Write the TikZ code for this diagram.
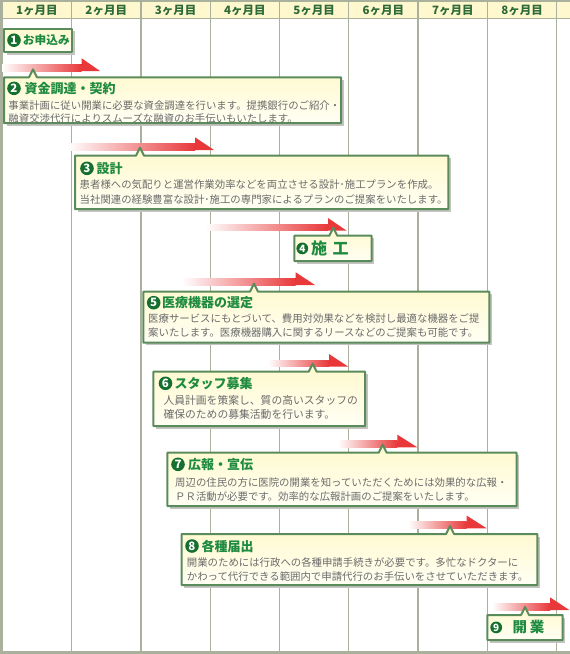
\documentclass[tikz,border=0pt]{standalone}
\usepackage{fontspec}
\setmainfont{Noto Sans CJK JP}
\definecolor{gridc}{HTML}{A9B09C}
\definecolor{headfill}{HTML}{FFF8CF}
\definecolor{headtxt}{HTML}{2D6A37}
\definecolor{boxline}{HTML}{5A8B5B}
\definecolor{boxtop}{HTML}{FFF9CC}
\definecolor{boxbot}{HTML}{FFFFF4}
\definecolor{titlec}{HTML}{1F8B40}
\definecolor{circc}{HTML}{157030}
\definecolor{bodyc}{HTML}{6B6B6B}
\definecolor{arrowred}{HTML}{E8383A}
\definecolor{shadowc}{HTML}{C4C4C0}
\tikzset{
  gridline/.style={draw=gridc, line width=1.3pt},
  headtext/.style={font=\fontsize{11.5}{11.5}\selectfont\bfseries, text=headtxt, inner sep=0pt},
  boxpath/.style={draw=boxline, line width=2pt, line join=round, top color=boxtop, bottom color=boxbot},
  boxshadow/.style={fill=shadowc},
  titletext/.style={font=\fontsize{13}{13}\selectfont\bfseries, text=titlec, anchor=west, inner sep=0pt},
  bodytext/.style={font=\fontsize{10.4}{10.4}\selectfont, text=bodyc, anchor=west, inner sep=0pt},
  numcirc/.style={circle, fill=circc, text=white, inner sep=0pt, minimum size=13.6pt, font=\fontsize{11.5}{11.5}\selectfont\bfseries},
}
\newcommand\calloutbox[5]{%
  \fill[boxshadow] ({#1+2.5},{#2+2.5}) rectangle ({#3+2.5},{#4+2.5});
  \path[boxpath] (#1,#2) -- ({#5-4},#2) -- (#5,{#2-8}) -- ({#5+4},#2) -- (#3,#2) -- (#3,#4) -- (#1,#4) -- cycle;
}
\newcommand\plainbox[4]{%
  \fill[boxshadow] ({#1+2.5},{#2+2.5}) rectangle ({#3+2.5},{#4+2.5});
  \path[boxpath] (#1,#2) rectangle (#3,#4);
}
\newcommand\ganttarrow[4]{%
  \fill[left color=white, right color=arrowred] (#1,{#4-6.7}) rectangle (#2,#4);
  \fill[arrowred] (#2,{#4-12.7}) -- (#3,#4) -- (#2,#4) -- cycle;
}
\begin{document}
\begin{tikzpicture}[x=1pt,y=-1pt]
\useasboundingbox (0,0) rectangle (570,654);
\fill[white] (0,0) rectangle (570,654);
% header
\fill[headfill] (0,1.5) rectangle (570,18);
\foreach \k in {1,...,8} \draw[gridline] ({2.3+69.3*\k},0) -- ({2.3+69.3*\k},652);
\draw[gridc, line width=1.7pt] (0,0.85) -- (570,0.85);
\draw[gridline] (0,18.3) -- (570,18.3);
\draw[gridc, line width=2.6pt] (1.3,0) -- (1.3,654);
\draw[gridc, line width=2.8pt] (0,652.6) -- (570,652.6);
\foreach \k in {1,...,8} \node[headtext] (h\k) at ({2.3+69.3*(\k-0.5)},10.6) {\k ヶ月目};

% arrows
\ganttarrow{2}{81.7}{100}{71}
\ganttarrow{68}{195}{214}{150}
\ganttarrow{205}{328}{346.7}{230.7}
\ganttarrow{182}{295.7}{315}{285}
\ganttarrow{268}{329}{348.3}{366.7}
\ganttarrow{338}{397.3}{417.3}{447.3}
\ganttarrow{408}{466.7}{486.7}{528.3}
\ganttarrow{492}{550}{569.3}{610}

% box 1
\plainbox{4}{28.5}{72}{52}
\node[numcirc] (c1) at (14,40.2) {1};
\node[titletext, font=\fontsize{11.7}{11.7}\selectfont\bfseries] (t1) at (22.8,40.2) {お申込み};

% box 2
\calloutbox{4}{77.3}{341}{123}{33}
\node[numcirc] (c2) at (14,88.3) {2};
\node[titletext] (t2) at (24.5,88.3) {資金調達・契約};
\node[bodytext] (b2a) at (8.3,105.3) {事業計画に従い開業に必要な資金調達を行います。提携銀行のご紹介・};
\node[bodytext] (b2b) at (8.3,118.6) {融資交渉代行によりスムーズな融資のお手伝いもいたします。};

% box 3
\calloutbox{75}{155.7}{448.3}{209}{140}
\node[numcirc] (c3) at (87,168.3) {3};
\node[titletext] (t3) at (96.5,168.3) {設計};
\node[bodytext] (b3a) at (79.5,184.2) {患者様への気配りと運営作業効率などを両立させる設計･施工プランを作成。};
\node[bodytext] (b3b) at (79.5,199.3) {当社関連の経験豊富な設計･施工の専門家によるプランのご提案をいたします。};

% box 4
\calloutbox{294.3}{235.7}{371.7}{261}{333.3}
\node[numcirc, minimum size=11.8pt, font=\fontsize{10}{10}\selectfont\bfseries] (c4) at (302.3,248.4) {4};
\node[titletext, font=\fontsize{16}{16}\selectfont\bfseries] (t4) at (311,248.4) {施\hspace{5.5pt}工};

% box 5
\calloutbox{143.3}{291.7}{489.3}{342.7}{254}
\node[numcirc] (c5) at (153.7,302.7) {5};
\node[titletext] (t5) at (162,302.7) {医療機器の選定};
\node[bodytext] (b5a) at (148,318.3) {医療サービスにもとづいて、費用対効果などを検討し最適な機器をご提};
\node[bodytext] (b5b) at (148,333) {案いたします。医療機器購入に関するリースなどのご提案も可能です。};

% box 6
\calloutbox{153.3}{371.7}{365}{426}{312.7}
\node[numcirc] (c6) at (165.5,383.3) {6};
\node[titletext] (t6) at (174.5,383.3) {スタッフ募集};
\node[bodytext, font=\fontsize{10.8}{10.8}\selectfont] (b6a) at (163.3,400) {人員計画を策案し、質の高いスタッフの};
\node[bodytext, font=\fontsize{10.8}{10.8}\selectfont] (b6b) at (163.3,414) {確保のための募集活動を行います。};

% box 7
\calloutbox{167.3}{452.7}{516.7}{506}{382.7}
\node[numcirc] (c7) at (178,464.3) {7};
\node[titletext] (t7) at (188,464.3) {広報・宣伝};
\node[bodytext] (b7a) at (175,482.3) {周辺の住民の方に医院の開業を知っていただくためには効果的な広報・};
\node[bodytext] (b7b) at (175,496.7) {ＰＲ活動が必要です。効率的な広報計画のご提案をいたします。};

% box 8
\calloutbox{181.7}{534}{537.3}{585}{450}
\node[numcirc] (c8) at (192,546) {8};
\node[titletext] (t8) at (201.3,546) {各種届出};
\node[bodytext] (b8a) at (186.7,562.7) {開業のためには行政への各種申請手続きが必要です。多忙なドクターに};
\node[bodytext] (b8b) at (186.7,576.7) {かわって代行できる範囲内で申請代行のお手伝いをさせていただきます。};

% box 9
\calloutbox{487.3}{615}{562.7}{640}{525}
\node[numcirc, minimum size=11.8pt, font=\fontsize{10}{10}\selectfont\bfseries] (c9) at (496.2,627.4) {9};
\node[titletext, font=\fontsize{14.5}{14.5}\selectfont\bfseries] (t9) at (512.3,627.4) {開\hspace{3pt}業};
\end{tikzpicture}
\end{document}
